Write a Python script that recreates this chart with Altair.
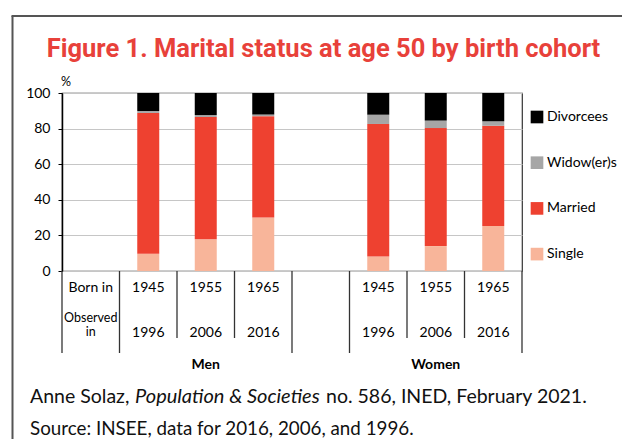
import altair as alt
import pandas as pd

# ---------------- data ----------------
slots = ["Born in", "Men 1945", "Men 1955", "Men 1965", "gap",
         "Women 1945", "Women 1955", "Women 1965"]
slot_group = ["head", "Men", "Men", "Men", "gap", "Women", "Women", "Women"]
row1_labels = ["Born in", "1945", "1955", "1965", "", "1945", "1955", "1965"]
row2_labels = ["", "1996", "2006", "2016", "", "1996", "2006", "2016"]
row2_header = ["Observed", "in"]

bar_slots = ["Men 1945", "Men 1955", "Men 1965", "Women 1945", "Women 1955", "Women 1965"]
single = [9.7, 17.8, 30.0, 8.1, 14.0, 25.3]
married = [79.1, 68.7, 57.0, 74.5, 66.3, 56.3]
widowed = [1.1, 1.1, 0.9, 5.2, 4.2, 2.5]
divorced = [10.1, 12.4, 12.1, 12.2, 15.5, 15.9]

stack_order = ["Single", "Married", "Widow(er)s", "Divorcees"]
legend_order = ["Divorcees", "Widow(er)s", "Married", "Single"]
legend_colors = ["#000000", "#a6a6a6", "#ee4130", "#f8b59a"]

groups = ["Men", "Women"]
group_center_slot = ["Men 1955", "Women 1955"]

y_ticks = [0, 20, 40, 60, 80, 100]

title_text = "Figure 1. Marital status at age 50 by birth cohort"
footer1 = ["Anne Solaz,", "Population & Societies", "no. 586, INED, February 2021."]
footer2 = "Source: INSEE, data for 2016, 2006, and 1996."

# ---------------- tables ----------------
series = {"Single": single, "Married": married, "Widow(er)s": widowed, "Divorcees": divorced}
rows = []
for i, s in enumerate(bar_slots):
    for k, st in enumerate(stack_order):
        rows.append({"slot": s, "status": st, "value": series[st][i], "order": k})
bar_df = pd.DataFrame(rows)

lab1_df = pd.DataFrame({"slot": slots, "t": row1_labels})
lab1_df = lab1_df[lab1_df["t"] != ""]
lab2_df = pd.DataFrame({"slot": slots, "t": row2_labels})
lab2_df = lab2_df[lab2_df["t"] != ""]
head_a = pd.DataFrame({"slot": [slots[0]], "t": [row2_header[0]]})
head_b = pd.DataFrame({"slot": [slots[0]], "t": [row2_header[1]]})

# boundaries: left edge of each slot; long if it separates groups
bnd = []
for k, s in enumerate(slots):
    prev = slot_group[k - 1] if k > 0 else None
    bnd.append({"slot": s, "kind": "short" if prev == slot_group[k] else "long"})
bnd_df = pd.DataFrame(bnd)
last_df = pd.DataFrame({"slot": [slots[-1]]})

grp_df = pd.DataFrame({"slot": group_center_slot, "g": groups})

W, H = 460, 178
FONT = "Lato"
xs = alt.Scale(domain=slots, paddingInner=0, paddingOuter=0)
ys = alt.Scale(domain=[0, 100], nice=False)

bars = alt.Chart(bar_df).mark_bar(size=22).encode(
    x=alt.X("slot:N", scale=xs, axis=None),
    y=alt.Y("value:Q", stack="zero", scale=ys,
            axis=alt.Axis(values=y_ticks, title=None, tickSize=4, labelPadding=8,
                          labelFont=FONT, labelFontSize=14, labelColor="#000",
                          domainColor="#000", domainWidth=1.5, tickColor="#000",
                          gridColor="#c6c6c6", gridWidth=1.2)),
    color=alt.Color("status:N", scale=alt.Scale(domain=legend_order, range=legend_colors),
                    legend=alt.Legend(title=None, orient="none", legendX=468, legendY=17,
                                      symbolType="square", symbolSize=160,
                                      symbolStrokeWidth=0, labelFont=FONT,
                                      labelFontSize=14, labelColor="#000",
                                      rowPadding=31.7, labelOffset=3)),
    order=alt.Order("order:Q"),
)

rule_style = dict(color="#333333", strokeWidth=1.3)
long_rules = alt.Chart(bnd_df).transform_filter("datum.kind == 'long'").mark_rule(**rule_style).encode(
    x=alt.X("slot:N", scale=xs, bandPosition=0), y=alt.value(H), y2=alt.value(260))
short_rules = alt.Chart(bnd_df).transform_filter("datum.kind == 'short'").mark_rule(**rule_style).encode(
    x=alt.X("slot:N", scale=xs, bandPosition=0), y=alt.value(H), y2=alt.value(245))
end_rule = alt.Chart(last_df).mark_rule(**rule_style).encode(
    x=alt.X("slot:N", scale=xs, bandPosition=1), y=alt.value(H), y2=alt.value(260))

row1 = alt.Chart(lab1_df).mark_text(font=FONT, fontSize=14, baseline="middle").encode(
    x=alt.X("slot:N", scale=xs, bandPosition=0.5), y=alt.value(195), text="t:N")
row2 = alt.Chart(lab2_df).mark_text(font=FONT, fontSize=14, baseline="middle").encode(
    x=alt.X("slot:N", scale=xs, bandPosition=0.5), y=alt.value(240), text="t:N")
head2a = alt.Chart(head_a).mark_text(font=FONT, fontSize=12.5, baseline="middle").encode(
    x=alt.X("slot:N", scale=xs, bandPosition=0.5), y=alt.value(225), text="t:N")
head2b = alt.Chart(head_b).mark_text(font=FONT, fontSize=12.5, baseline="middle").encode(
    x=alt.X("slot:N", scale=xs, bandPosition=0.5), y=alt.value(239), text="t:N")
grp = alt.Chart(grp_df).mark_text(font=FONT, fontSize=14, fontWeight="bold", baseline="middle").encode(
    x=alt.X("slot:N", scale=xs, bandPosition=0.5), y=alt.value(272), text="g:N")

def label(txt, x, y, **kw):
    return alt.Chart(pd.DataFrame({"t": [txt]})).mark_text(**kw).encode(
        text="t:N", x=alt.value(x), y=alt.value(y))

title = label(title_text, 261.5, -36, font="Roboto", fontSize=25.5, fontWeight="bold",
              color="#e8413a", align="center", baseline="alphabetic")
pct = label("%", 4, -11, font=FONT, fontSize=12.5, align="center", baseline="middle")
f1a = label(footer1[0], -32, 310, font=FONT, fontSize=19.5, align="left", color="#111", baseline="alphabetic")
f1b = label(footer1[1], 73, 310, font=FONT, fontSize=20, fontStyle="italic", align="left", color="#111", baseline="alphabetic")
f1c = label(footer1[2], 264, 310, font=FONT, fontSize=19.5, align="left", color="#111", baseline="alphabetic")
f2 = label(footer2, -32, 342, font=FONT, fontSize=18.8, align="left", color="#111", baseline="alphabetic")

border_v = alt.Chart(pd.DataFrame({"a": [0]})).mark_rule(color="#555555", strokeWidth=2).encode(
    x=alt.value(-49.5), y=alt.value(-77), y2=alt.value(H + 200))
border_h = alt.Chart(pd.DataFrame({"a": [0]})).mark_rule(color="#555555", strokeWidth=2).encode(
    x=alt.value(-50.5), x2=alt.value(W + 200), y=alt.value(-77))

chart = alt.layer(
    bars, long_rules, short_rules, end_rule, row1, row2, head2a, head2b, grp,
    title, pct, f1a, f1b, f1c, f2, border_v, border_h
).properties(
    width=W, height=H,
    autosize=alt.AutoSizeParams(type="none"),
    padding={"left": 54, "top": 85, "right": 100, "bottom": 168},
).configure_view(stroke="#333333", strokeWidth=1.2)

chart.save("out.html", embed_options={"renderer": "svg", "actions": False})
